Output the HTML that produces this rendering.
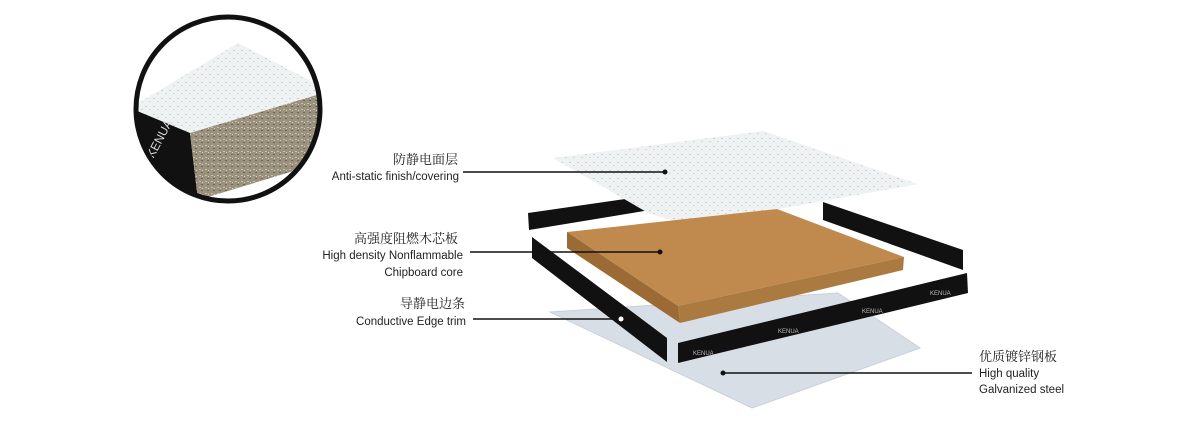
<!DOCTYPE html>
<html><head><meta charset="utf-8"><style>
html,body{margin:0;padding:0;background:#fff;width:1200px;height:433px;overflow:hidden}
svg{display:block}
.cn{font-family:"Noto Serif CJK SC","Liberation Serif",serif;font-size:13px;fill:#222}
.en{font-family:"Liberation Sans",sans-serif;font-size:11.5px;fill:#222}
</style></head><body>
<svg width="1200" height="433" viewBox="0 0 1200 433" xmlns="http://www.w3.org/2000/svg">
<defs>
<clipPath id="c"><circle cx="228" cy="109" r="92"/></clipPath>
<pattern id="chip" width="6" height="6" patternUnits="userSpaceOnUse">
<rect width="6" height="6" fill="#9a917f"/><rect x="1" y="1" width="2" height="1" fill="#c9bfa8"/><rect x="3" y="4" width="2" height="1" fill="#6f6656"/><rect x="4" y="2" width="1" height="1" fill="#d8cfb8"/>
</pattern>
<pattern id="marb" width="8" height="8" patternUnits="userSpaceOnUse">
<rect width="8" height="8" fill="#eef2f3"/><rect x="1" y="2" width="2" height="1" fill="#c8d0d2"/><rect x="5" y="5" width="2" height="1" fill="#d4dadc"/>
</pattern>
</defs>
<!-- circle inset -->
<g clip-path="url(#c)">
<polygon points="130,108 238,43 330,91 190,133" fill="url(#marb)"/>
<polygon points="130,108 190,133 198,200 130,175" fill="#111"/>
<polygon points="190,133 330,91 330,160 198,200" fill="url(#chip)"/>
<text x="148" y="150" transform="rotate(-62 158 150)" font-family="Liberation Sans,sans-serif" font-size="12" fill="#ddd">KENUA</text>
</g>
<circle cx="228" cy="109" r="92" fill="none" stroke="#111" stroke-width="5"/>
<!-- steel sheet -->
<polygon points="550,312 838,293 920,348 752,408" fill="#d8dee6" stroke="#c9d0d9"/>
<!-- back strips -->
<polygon points="528,213 632,198 650,210 529,230" fill="#111"/>
<polygon points="823,202 963,250 963,270 823,220" fill="#111"/>
<!-- top sheet -->
<polygon points="553,158 763,131 918,184 690,225 650,214" fill="url(#marb)"/>
<!-- core -->
<polygon points="567,232 777,209 904,257 678,306" fill="#c08a4e"/>
<polygon points="567,232 678,306 680,323 567,248" fill="#9c6a34"/>
<polygon points="678,306 904,257 903,270 680,323" fill="#ab7a40"/>
<!-- front strips -->
<polygon points="532,237 667,338 667,362 532,258" fill="#111"/>
<polygon points="678,343 967,273 968,293 678,363" fill="#111"/>
<g font-family="Liberation Sans,sans-serif" font-size="6" fill="#bbb">
<text x="693" y="355">KENUA</text><text x="778" y="333">KENUA</text><text x="862" y="313">KENUA</text><text x="930" y="295">KENUA</text>
</g>
<!-- leaders -->
<g stroke="#111" stroke-width="1.5">
<line x1="463" y1="172" x2="665" y2="172"/>
<line x1="470" y1="252" x2="660" y2="252"/>
<line x1="473" y1="319" x2="621" y2="319"/>
<line x1="723" y1="373" x2="972" y2="373"/>
</g>
<circle cx="665" cy="172" r="2.5" fill="#111"/>
<circle cx="660" cy="252" r="2.5" fill="#111"/>
<circle cx="621" cy="319" r="2.5" fill="#fff"/>
<circle cx="723" cy="373" r="2.5" fill="#111"/>
<!-- labels -->
<g text-anchor="end">
<text class="cn" x="458" y="164">防静电面层</text>
<text class="en" x="459" y="180">Anti-static finish/covering</text>
<text class="cn" x="458" y="243">高强度阻燃木芯板</text>
<text class="en" x="463" y="259">High density Nonflammable</text>
<text class="en" x="463" y="276">Chipboard core</text>
<text class="cn" x="465" y="308">导静电边条</text>
<text class="en" x="466" y="325">Conductive Edge trim</text>
</g>
<text class="cn" x="979" y="361">优质镀锌钢板</text>
<text class="en" x="979" y="377">High quality</text>
<text class="en" x="979" y="393">Galvanized steel</text>
</svg>
</body></html>
